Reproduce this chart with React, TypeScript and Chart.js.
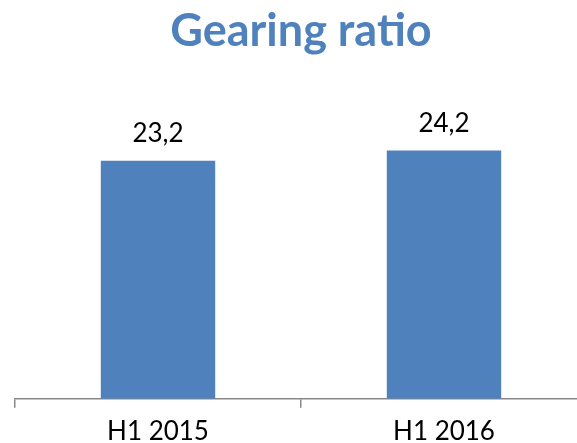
import React, { useEffect, useRef } from "react";
import { Chart, registerables } from "chart.js";

Chart.register(...registerables);

const categories = ["H1 2015", "H1 2016"];
const gearingValues = [23.2, 24.2];
const valueLabels = ["23,2", "24,2"];
const titleText = "Gearing ratio";

const BLUE = "#4F81BD";
const FONT = "Lato, 'Open Sans', sans-serif";

const dataLabelPlugin = {
  id: "dataLabels",
  afterDatasetsDraw(chart: any) {
    const ctx = chart.ctx;
    const meta = chart.getDatasetMeta(0);
    ctx.save();
    ctx.font = `26px ${FONT}`;
    ctx.fillStyle = "#000000";
    ctx.textAlign = "center";
    ctx.textBaseline = "alphabetic";
    meta.data.forEach((bar: any, i: number) => {
      ctx.fillText(valueLabels[i], bar.x, bar.y - 19);
    });
    ctx.restore();
  },
};

export default function App() {
  const ref = useRef<HTMLCanvasElement>(null);
  useEffect(() => {
    document.body.style.margin = "0";
    const chart = new Chart(ref.current!, {
      type: "bar",
      data: {
        labels: categories,
        datasets: [
          {
            data: gearingValues,
            backgroundColor: BLUE,
            borderWidth: 0,
            barPercentage: 0.4,
            categoryPercentage: 1,
          },
        ],
      },
      options: {
        animation: false,
        responsive: false,
        maintainAspectRatio: false,
        layout: { padding: { left: 15, right: 3, top: 0, bottom: 0 } },
        plugins: {
          legend: { display: false },
          tooltip: { enabled: false },
          title: {
            display: true,
            text: titleText,
            color: BLUE,
            font: { family: FONT, size: 45, weight: "bold", lineHeight: 1.2 },
            padding: { top: 4, bottom: 33 },
          },
        },
        scales: {
          y: { display: false, min: 0, max: 30 },
          x: {
            offset: true,
            grid: {
              offset: true,
              drawOnChartArea: false,
              drawTicks: true,
              tickLength: 9,
              color: "#888888",
              lineWidth: 1.5,
            },
            border: { display: true, color: "#888888", width: 1.5 },
            ticks: {
              color: "#000000",
              padding: 8,
              font: { family: FONT, size: 26, lineHeight: 1.2 },
            },
          },
        },
      },
      plugins: [dataLabelPlugin],
    });
    return () => chart.destroy();
  }, []);
  return (
    <div style={{ width: 577, height: 443, overflow: "hidden", background: "#fff" }}>
      <canvas ref={ref} width={590} height={455} style={{ display: "block" }} />
    </div>
  );
}
